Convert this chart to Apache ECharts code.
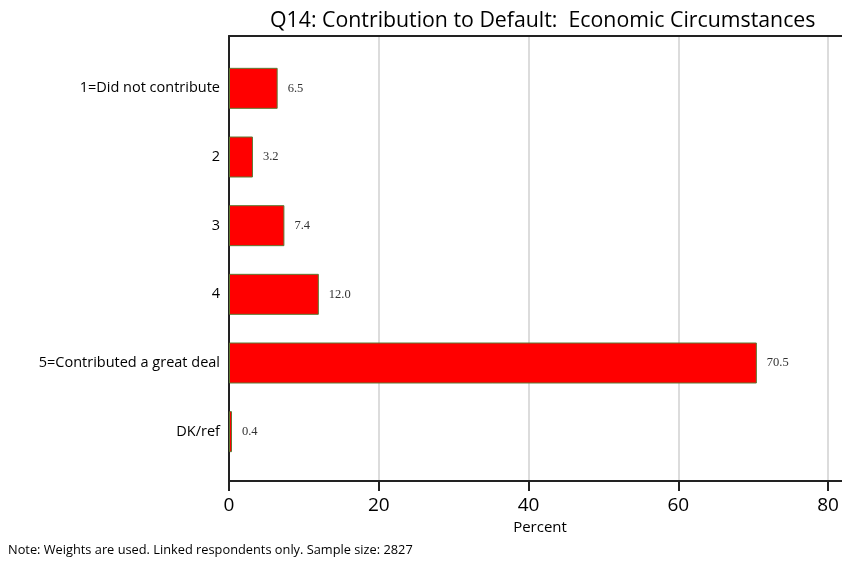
<!DOCTYPE html>
<html>
<head>
<meta charset="utf-8">
<script src="https://cdn.jsdelivr.net/npm/echarts@6/dist/echarts.min.js"></script>
<style>html,body{margin:0;padding:0;background:#fff}#c{width:842px;height:566px}</style>
</head>
<body>
<div id="c"></div>
<script>
const categories = ['1=Did not contribute', '2', '3', '4', '5=Contributed a great deal', 'DK/ref'];
const percents = [6.5, 3.2, 7.4, 12.0, 70.5, 0.4];
const xTicks = [0, 20, 40, 60, 80];
const titleText = 'Q14: Contribution to Default:  Economic Circumstances';
const noteText = 'Note: Weights are used. Linked respondents only. Sample size: 2827';
const axisLabelName = 'Percent';

const XMAX = xTicks[xTicks.length - 1];
const chart = echarts.init(document.getElementById('c'), null, {renderer: 'canvas'});
const frameLine = () => ({show: true, onZero: false, lineStyle: {color: '#222', width: 2}});
chart.setOption({
  animation: false,
  backgroundColor: '#fff',
  title: [
    {text: titleText, left: 265, top: 5, textStyle: {fontFamily: 'Open Sans', fontSize: 21.3, fontWeight: 'normal', color: '#000'}},
    {text: noteText, left: 3, top: 539, textStyle: {fontFamily: 'Open Sans', fontSize: 12.8, fontWeight: 'normal', color: '#000'}}
  ],
  grid: [
    {left: 229, right: 14, top: 36, bottom: 85},
    {left: 229, right: 14, top: 54, bottom: 100},
    {left: 229, right: 0, top: 36, bottom: 85}
  ],
  xAxis: [
    {gridIndex: 0, type: 'value', min: 0, max: XMAX, interval: 20, position: 'bottom',
      axisLine: frameLine(),
      axisTick: {show: true, length: 10, lineStyle: {color: '#222', width: 2}},
      axisLabel: {fontFamily: 'Open Sans', fontSize: 19, color: '#000', margin: 15},
      splitLine: {show: true, lineStyle: {color: '#dcdcdc', width: 2}},
      name: axisLabelName, nameLocation: 'middle', nameGap: 36,
      nameTextStyle: {fontFamily: 'Open Sans', fontSize: 15, color: '#000', padding: [0, 0, 0, 23]}},
    {gridIndex: 1, type: 'value', min: 0, max: XMAX, show: false, splitLine: {show: false}},
    {gridIndex: 2, type: 'value', min: 0, max: 1, position: 'bottom',
      axisLine: frameLine(), axisTick: {show: false}, axisLabel: {show: false}, splitLine: {show: false}},
    {gridIndex: 2, type: 'value', min: 0, max: 1, position: 'top',
      axisLine: frameLine(), axisTick: {show: false}, axisLabel: {show: false}, splitLine: {show: false}}
  ],
  yAxis: [
    {gridIndex: 0, type: 'value', min: 0, max: 1,
      axisLine: frameLine(), axisTick: {show: false}, axisLabel: {show: false}, splitLine: {show: false}},
    {gridIndex: 1, type: 'category', data: categories, inverse: true,
      axisLine: {show: false}, axisTick: {show: false},
      axisLabel: {fontFamily: 'Open Sans', fontSize: 14.5, color: '#000', margin: 9}},
    {gridIndex: 2, type: 'value', min: 0, max: 1, show: false, axisLine: {show: false}, splitLine: {show: false}}
  ],
  series: [{
    type: 'bar', xAxisIndex: 1, yAxisIndex: 1, data: percents, barWidth: 41,
    itemStyle: {color: '#ff0000', borderColor: '#5d7a34', borderWidth: 1},
    label: {show: true, position: 'right', distance: 10, formatter: p => p.value.toFixed(1),
      fontFamily: 'Liberation Serif', fontSize: 12.5, color: '#333'}
  }]
});
</script>
</body>
</html>
